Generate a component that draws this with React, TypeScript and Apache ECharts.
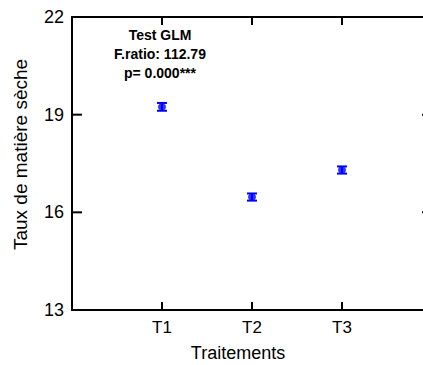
import React, { useEffect, useRef } from "react";
import * as echarts from "echarts";

const categories = ["T1", "T2", "T3"];
const means = [19.24, 16.47, 17.3];
const errors = [0.12, 0.11, 0.11];
const yTicks = [13, 16, 19, 22];
const xTicks = [1, 2, 3];
const annotation = ["Test GLM", "F.ratio: 112.79", "p= 0.000***"];

export default function App() {
  const ref = useRef<HTMLDivElement>(null);
  useEffect(() => {
    document.body.style.margin = "0";
    const chart = echarts.init(ref.current!, null, { renderer: "svg" });
    const font = "Liberation Sans, Arial, sans-serif";
    const xMin = 0;
    const xMax = 4;
    const yMin = yTicks[0];
    const yMax = yTicks[yTicks.length - 1];
    const pts = means.map((m, i) => [i + 1, m]);
    const errData = means.map((m, i) => [i + 1, m - errors[i], m + errors[i]]);
    const tickData = [
      ...xTicks.map((v) => [0, v]),
      ...yTicks.slice(1, -1).map((v) => [1, v]),
    ];
    const tickStyle = { stroke: "#000", lineWidth: 2 };
    chart.setOption({
      animation: false,
      backgroundColor: "#fff",
      grid: { left: 72, top: 17, width: 360, height: 293, containLabel: false, outerBoundsMode: "none" },
      xAxis: [
        {
          type: "value",
          min: xMin,
          max: xMax,
          interval: 1,
          position: "bottom",
          splitLine: { show: false },
          axisLine: { show: true, onZero: false, lineStyle: { color: "#000", width: 2 } },
          axisTick: { show: false },
          name: "Traitements",
          nameLocation: "middle",
          nameGap: 34,
          nameTextStyle: { fontFamily: font, fontSize: 18, color: "#000", padding: [0, 28, 0, 0] },
          axisLabel: {
            fontFamily: font,
            fontSize: 17,
            color: "#000",
            margin: 9,
            formatter: (v: number) => (v >= 1 && v <= categories.length ? categories[v - 1] : ""),
          },
        },
        {
          type: "value",
          min: xMin,
          max: xMax,
          interval: 1,
          position: "top",
          splitLine: { show: false },
          axisLine: { show: true, onZero: false, lineStyle: { color: "#000", width: 2 } },
          axisTick: { show: false },
          axisLabel: { show: false },
        },
      ],
      yAxis: [
        {
          type: "value",
          min: yMin,
          max: yMax,
          interval: 3,
          position: "left",
          splitLine: { show: false },
          axisLine: { show: true, onZero: false, lineStyle: { color: "#000", width: 2 } },
          axisTick: { show: false },
          name: "Taux de matière sèche",
          nameLocation: "middle",
          nameGap: 42,
          nameTextStyle: { fontFamily: font, fontSize: 19, color: "#000", padding: [0, 0, 0, 18] },
          axisLabel: { fontFamily: font, fontSize: 18, color: "#000", margin: 8 },
        },
        {
          type: "value",
          min: yMin,
          max: yMax,
          interval: 3,
          position: "right",
          splitLine: { show: false },
          axisLine: { show: true, onZero: false, lineStyle: { color: "#000", width: 2 } },
          axisTick: { show: false },
          axisLabel: { show: false },
        },
      ],
      graphic: [
        {
          type: "text",
          x: 160,
          y: 25,
          style: {
            text: annotation.join("\n"),
            fontFamily: font,
            fontSize: 14,
            fontWeight: "bold",
            fill: "#000",
            align: "center",
            lineHeight: 19,
          },
        },
      ],
      series: [
        {
          type: "custom",
          xAxisIndex: 0,
          yAxisIndex: 0,
          silent: true,
          clip: false,
          data: tickData,
          renderItem: (params: any, api: any) => {
            const kind = api.value(0);
            const v = api.value(1);
            if (kind === 0) {
              const b = api.coord([v, yMin]);
              const t = api.coord([v, yMax]);
              return {
                type: "group",
                children: [
                  { type: "line", shape: { x1: b[0], y1: b[1], x2: b[0], y2: b[1] - 8 }, style: tickStyle },
                  { type: "line", shape: { x1: t[0], y1: t[1], x2: t[0], y2: t[1] + 8 }, style: tickStyle },
                ],
              };
            }
            const l = api.coord([xMin, v]);
            const r = api.coord([xMax, v]);
            return {
              type: "group",
              children: [
                { type: "line", shape: { x1: l[0], y1: l[1], x2: l[0] + 10, y2: l[1] }, style: tickStyle },
                { type: "line", shape: { x1: r[0], y1: r[1], x2: r[0] - 10, y2: r[1] }, style: tickStyle },
              ],
            };
          },
        },
        {
          type: "custom",
          xAxisIndex: 0,
          yAxisIndex: 0,
          data: errData,
          renderItem: (params: any, api: any) => {
            const x = api.value(0);
            const lo = api.coord([x, api.value(1)]);
            const hi = api.coord([x, api.value(2)]);
            const w = 5;
            const st = { stroke: "#0000ff", lineWidth: 2 };
            return {
              type: "group",
              children: [
                { type: "line", shape: { x1: lo[0], y1: lo[1], x2: hi[0], y2: hi[1] }, style: st },
                { type: "line", shape: { x1: lo[0] - w, y1: lo[1], x2: lo[0] + w, y2: lo[1] }, style: st },
                { type: "line", shape: { x1: hi[0] - w, y1: hi[1], x2: hi[0] + w, y2: hi[1] }, style: st },
              ],
            };
          },
        },
        {
          type: "scatter",
          data: pts,
          symbol: "circle",
          symbolSize: 8,
          itemStyle: { color: "#0000ff" },
        },
      ],
    });
    return () => chart.dispose();
  }, []);
  return <div ref={ref} style={{ width: 423, height: 365, position: "absolute", left: 0, top: 0 }} />;
}
